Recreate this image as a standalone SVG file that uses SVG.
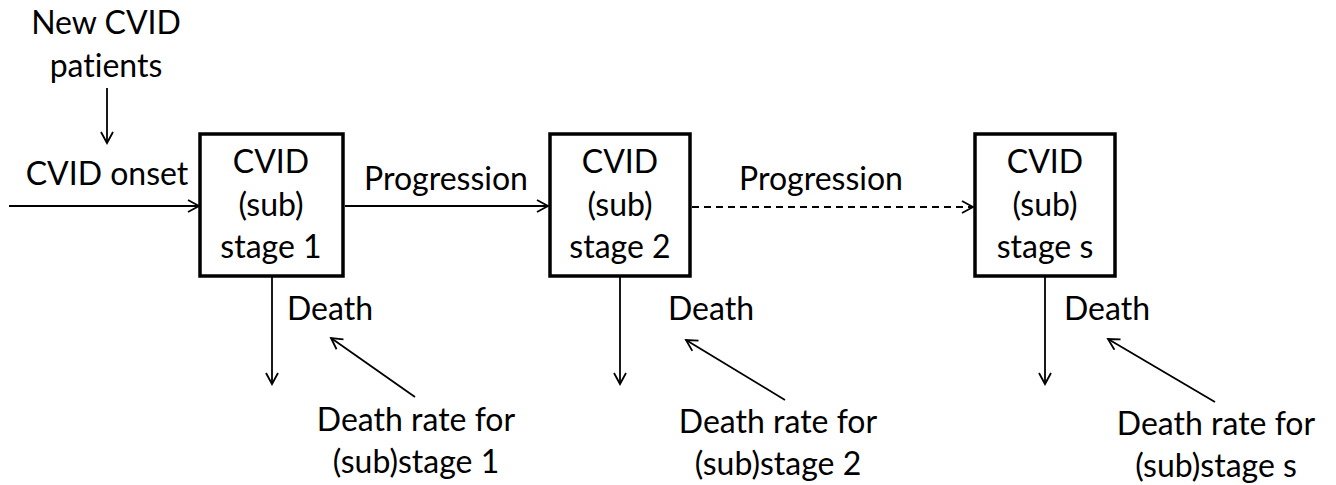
<svg xmlns="http://www.w3.org/2000/svg" width="1336" height="485" viewBox="0 0 1336 485">
<defs>
<marker id="arr" markerWidth="14" markerHeight="14" refX="12" refY="7" orient="auto" markerUnits="userSpaceOnUse">
<path d="M1,1 L12,7 L1,13" fill="none" stroke="#000" stroke-width="1.8"/>
</marker>
<style>
text{font-family:"Lato","Liberation Sans",sans-serif;font-size:32px;fill:#000;font-variant-ligatures:none}
.c{text-anchor:middle}
.box{fill:#fff;stroke:#000;stroke-width:3.5}
.ln{stroke:#000;stroke-width:1.8;fill:none;marker-end:url(#arr)}
.dash{stroke-dasharray:7,5}
</style>
</defs>
<rect width="1336" height="485" fill="#fff"/>
<g id="connectors">
<line class="ln" x1="107" y1="88" x2="107" y2="143"/>
<line class="ln" x1="9" y1="206" x2="199" y2="206"/>
<line class="ln" x1="345" y1="206" x2="548" y2="206"/>
<line class="ln dash" x1="692" y1="207" x2="973" y2="207"/>
<line class="ln" x1="272" y1="277" x2="272" y2="384"/>
<line class="ln" x1="620" y1="277" x2="620" y2="384"/>
<line class="ln" x1="1045" y1="277" x2="1045" y2="384"/>
<line class="ln" x1="415" y1="397" x2="331" y2="338"/>
<line class="ln" x1="785" y1="400" x2="686" y2="340"/>
<line class="ln" x1="1215" y1="402" x2="1108" y2="339"/>
</g>
<g id="labels">
<text class="c" x="106" y="34">New CVID</text>
<text class="c" x="106" y="77">patients</text>
<text class="c" x="107" y="185">CVID onset</text>
<text class="c" x="446" y="190">Progression</text>
<text class="c" x="821" y="190">Progression</text>
<text x="287" y="320">Death</text>
<text x="668" y="320">Death</text>
<text x="1064" y="320">Death</text>
<text class="c" x="416" y="431">Death rate for</text>
<text class="c" x="416" y="473">(sub)stage 1</text>
<text class="c" x="778" y="433">Death rate for</text>
<text class="c" x="778" y="475">(sub)stage 2</text>
<text class="c" x="1216" y="435">Death rate for</text>
<text class="c" x="1216" y="477">(sub)stage s</text>
</g>
<g id="stage1">
<rect class="box" x="200" y="134" width="143" height="142"/>
<text class="c" x="271" y="173">CVID</text>
<text class="c" x="271" y="216">(sub)</text>
<text class="c" x="271" y="258">stage 1</text>
</g>
<g id="stage2">
<rect class="box" x="550" y="134" width="140" height="142"/>
<text class="c" x="620" y="173">CVID</text>
<text class="c" x="620" y="216">(sub)</text>
<text class="c" x="620" y="258">stage 2</text>
</g>
<g id="stageS">
<rect class="box" x="975" y="134" width="140" height="142"/>
<text class="c" x="1045" y="173">CVID</text>
<text class="c" x="1045" y="216">(sub)</text>
<text class="c" x="1045" y="258">stage s</text>
</g>
</svg>
